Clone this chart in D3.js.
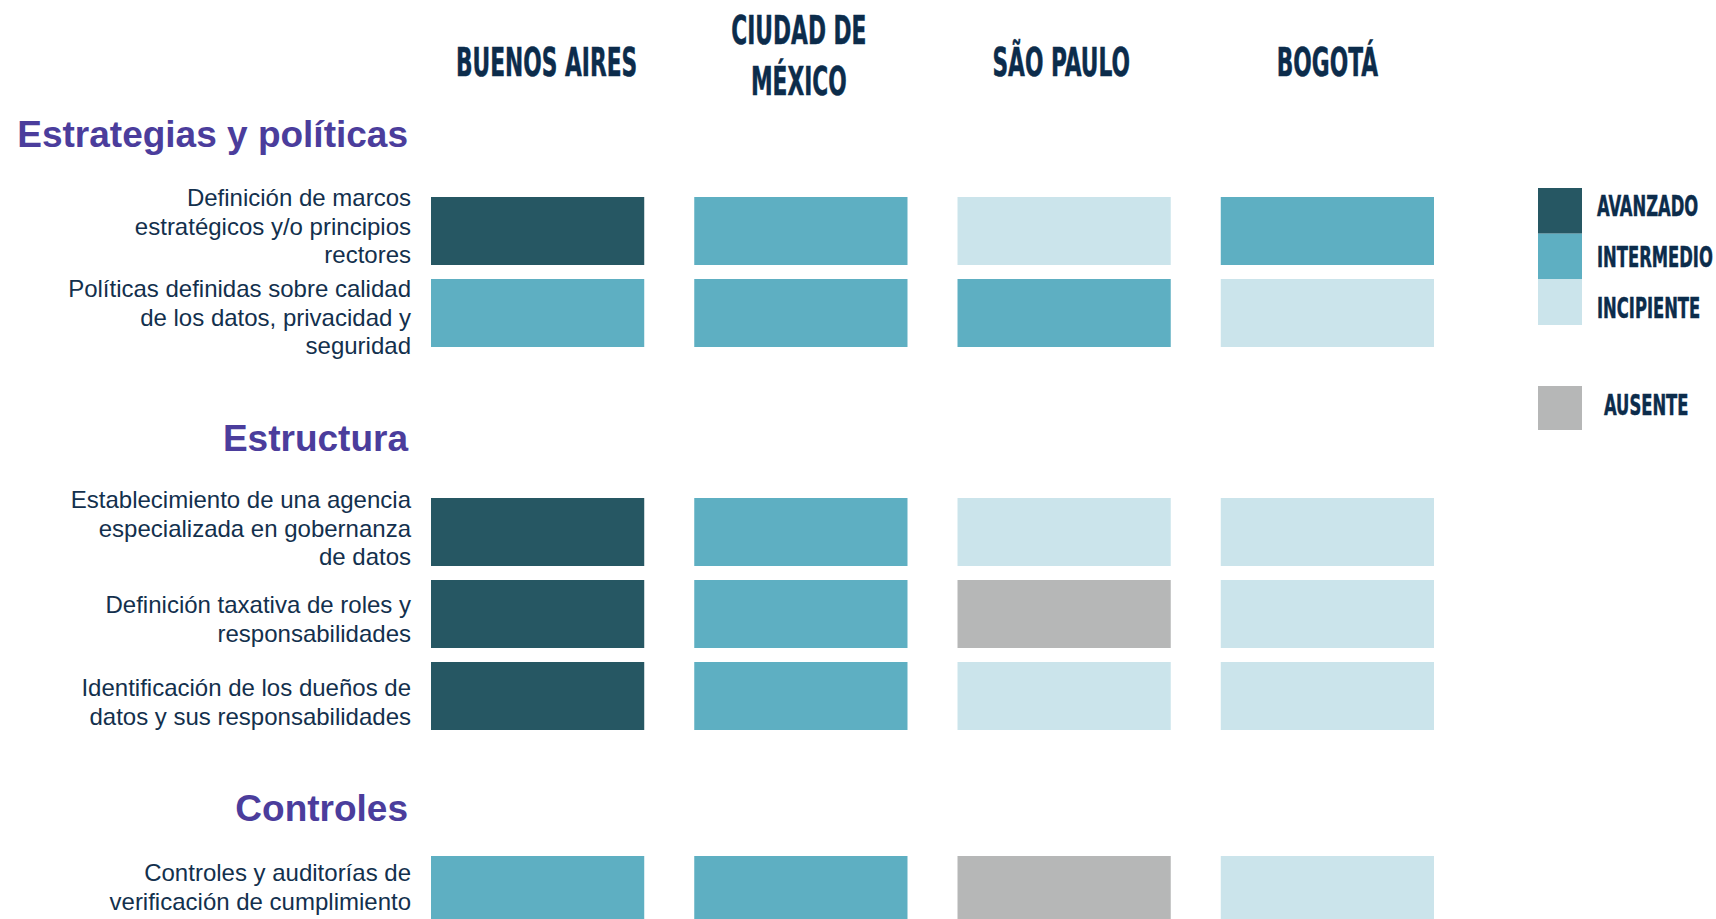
<!DOCTYPE html>
<html>
<head>
<meta charset="utf-8">
<script src="https://cdnjs.cloudflare.com/ajax/libs/d3/7.8.5/d3.min.js"></script>
<style>
  body { margin: 0; background: #fff; }
  .cond { font-family: "Liberation Sans Narrow", "DejaVu Sans Condensed", sans-serif; font-weight: bold; fill: #0c2c4b; stroke: #0c2c4b; stroke-width: 0.5; }
  .rowlabel { font-family: "Liberation Sans", Arial, sans-serif; font-size: 24px; fill: #13304d; }
  .section { font-family: "Liberation Sans", Arial, sans-serif; font-size: 37px; font-weight: bold; fill: #4b3d9c; }
</style>
</head>
<body>
<svg width="1716" height="919"></svg>
<script>
// cities (columns), header lines as shown
var cities = ["Buenos Aires", "Ciudad de México", "São Paulo", "Bogotá"];
var cityHeaders = [["BUENOS AIRES"], ["CIUDAD DE", "MÉXICO"], ["SÃO PAULO"], ["BOGOTÁ"]];

var sections = ["Estrategias y políticas", "Estructura", "Controles"];

// each row: which section it belongs to, and its label lines
var rowSection = [0, 0, 1, 1, 1, 2];
var rowLabels = [
    ["Definición de marcos", "estratégicos y/o principios", "rectores"],
    ["Políticas definidas sobre calidad", "de los datos, privacidad y", "seguridad"],
    ["Establecimiento de una agencia", "especializada en gobernanza", "de datos"],
    ["Definición taxativa de roles y", "responsabilidades"],
    ["Identificación de los dueños de", "datos y sus responsabilidades"],
    ["Controles y auditorías de", "verificación de cumplimiento"]
];

var levels = ["AVANZADO", "INTERMEDIO", "INCIPIENTE", "AUSENTE"];
var levelColors = ["#265763", "#5eafc2", "#cbe4eb", "#b6b7b7"];

// level of each row, per city (same order as cities)
var values = [
    ["AVANZADO", "INTERMEDIO", "INCIPIENTE", "INTERMEDIO"],
    ["INTERMEDIO", "INTERMEDIO", "INTERMEDIO", "INCIPIENTE"],
    ["AVANZADO", "INTERMEDIO", "INCIPIENTE", "INCIPIENTE"],
    ["AVANZADO", "INTERMEDIO", "AUSENTE", "INCIPIENTE"],
    ["AVANZADO", "INTERMEDIO", "INCIPIENTE", "INCIPIENTE"],
    ["INTERMEDIO", "INTERMEDIO", "AUSENTE", "INCIPIENTE"]
];

var svg = d3.select("svg");

// layout
var sectionTop = [197, 498, 856],
    sectionTitleY = [147, 451, 821],
    labelShift = [-5, 4, -4, 5, 6, -3],   // text boxes are not exactly centred on rows
    headerShift = [9, -2, -3, 0],
    rowStep = 82,
    rowGap = 14,
    labelRight = 411,
    titleRight = 408,
    lineHeight = 28.8,
    condScale = 0.62;

var color = d3.scaleOrdinal().domain(levels).range(levelColors);

var x = d3.scaleBand()
    .domain(cities)
    .range([431, 1434])
    .paddingInner(0.19);

// one band scale per section
var yScales = sections.map(function(s, si) {
    var rows = d3.range(rowLabels.length).filter(function(i) { return rowSection[i] === si; });
    var p = rowGap / rowStep;
    return d3.scaleBand()
        .domain(rows)
        .range([sectionTop[si], sectionTop[si] + rows.length * rowStep])
        .paddingInner(p)
        .paddingOuter(p / 2)
        .align(0);
});

function rowY(i) { return yScales[rowSection[i]](i); }
function rowH(i) { return yScales[rowSection[i]].bandwidth(); }

// column headers
var header = svg.append("g").selectAll("g")
    .data(cities)
    .enter().append("g");

header.each(function(c, ci) {
    var lines = cityHeaders[ci], n = lines.length;
    d3.select(this).selectAll("text")
        .data(lines)
        .enter().append("text")
        .attr("class", "cond")
        .attr("text-anchor", "middle")
        .attr("font-size", 39)
        .attr("transform", function(d, i) {
            var tx = x(c) + x.bandwidth() / 2 + headerShift[ci];
            var ty = 76 + (i - (n - 1) / 2) * 51 - (n - 1) * 6.5;
            return "translate(" + tx + "," + ty + ") scale(" + condScale + ",1)";
        })
        .text(function(d) { return d; });
});

// section titles
svg.append("g").selectAll("text")
    .data(sections)
    .enter().append("text")
    .attr("class", "section")
    .attr("text-anchor", "end")
    .attr("x", titleRight)
    .attr("y", function(d, i) { return sectionTitleY[i]; })
    .text(function(d) { return d; });

// row labels
var label = svg.append("g").selectAll("text")
    .data(rowLabels)
    .enter().append("text")
    .attr("class", "rowlabel")
    .attr("text-anchor", "end");

label.each(function(lines, i) {
    var n = lines.length,
        c = rowY(i) + rowH(i) / 2 + labelShift[i];
    d3.select(this).selectAll("tspan")
        .data(lines)
        .enter().append("tspan")
        .attr("x", labelRight)
        .attr("y", function(d, j) { return c + 8.6 + (j - (n - 1) / 2) * lineHeight; })
        .text(function(d) { return d; });
});

// cells
var cells = [];
values.forEach(function(row, i) {
    row.forEach(function(v, ci) {
        cells.push({ row: i, city: cities[ci], level: v });
    });
});

svg.append("g").selectAll("rect")
    .data(cells)
    .enter().append("rect")
    .attr("x", function(d) { return x(d.city); })
    .attr("y", function(d) { return rowY(d.row); })
    .attr("width", x.bandwidth())
    .attr("height", function(d) { return rowH(d.row); })
    .attr("fill", function(d) { return color(d.level); });

// legend
var legendMain = d3.scaleBand().domain(levels.slice(0, 3)).range([188, 325]);
var legendText = d3.scalePoint().domain(levels.slice(0, 3)).range([216, 318]);
var legendY = function(l) { return l === "AUSENTE" ? 386 : legendMain(l); };
var legendH = function(l) { return l === "AUSENTE" ? 44 : legendMain.bandwidth(); };

var legend = svg.append("g").selectAll("g")
    .data(levels)
    .enter().append("g");

legend.append("rect")
    .attr("x", 1538)
    .attr("y", legendY)
    .attr("width", 44)
    .attr("height", legendH)
    .attr("fill", function(d) { return color(d); });

legend.append("text")
    .attr("class", "cond")
    .attr("font-size", 28)
    .attr("transform", function(d) {
        var tx = d === "AUSENTE" ? 1604 : 1597;
        var ty = d === "AUSENTE" ? 415 : legendText(d);
        return "translate(" + tx + "," + ty + ") scale(0.65,1)";
    })
    .text(function(d) { return d; });
</script>
</body>
</html>
